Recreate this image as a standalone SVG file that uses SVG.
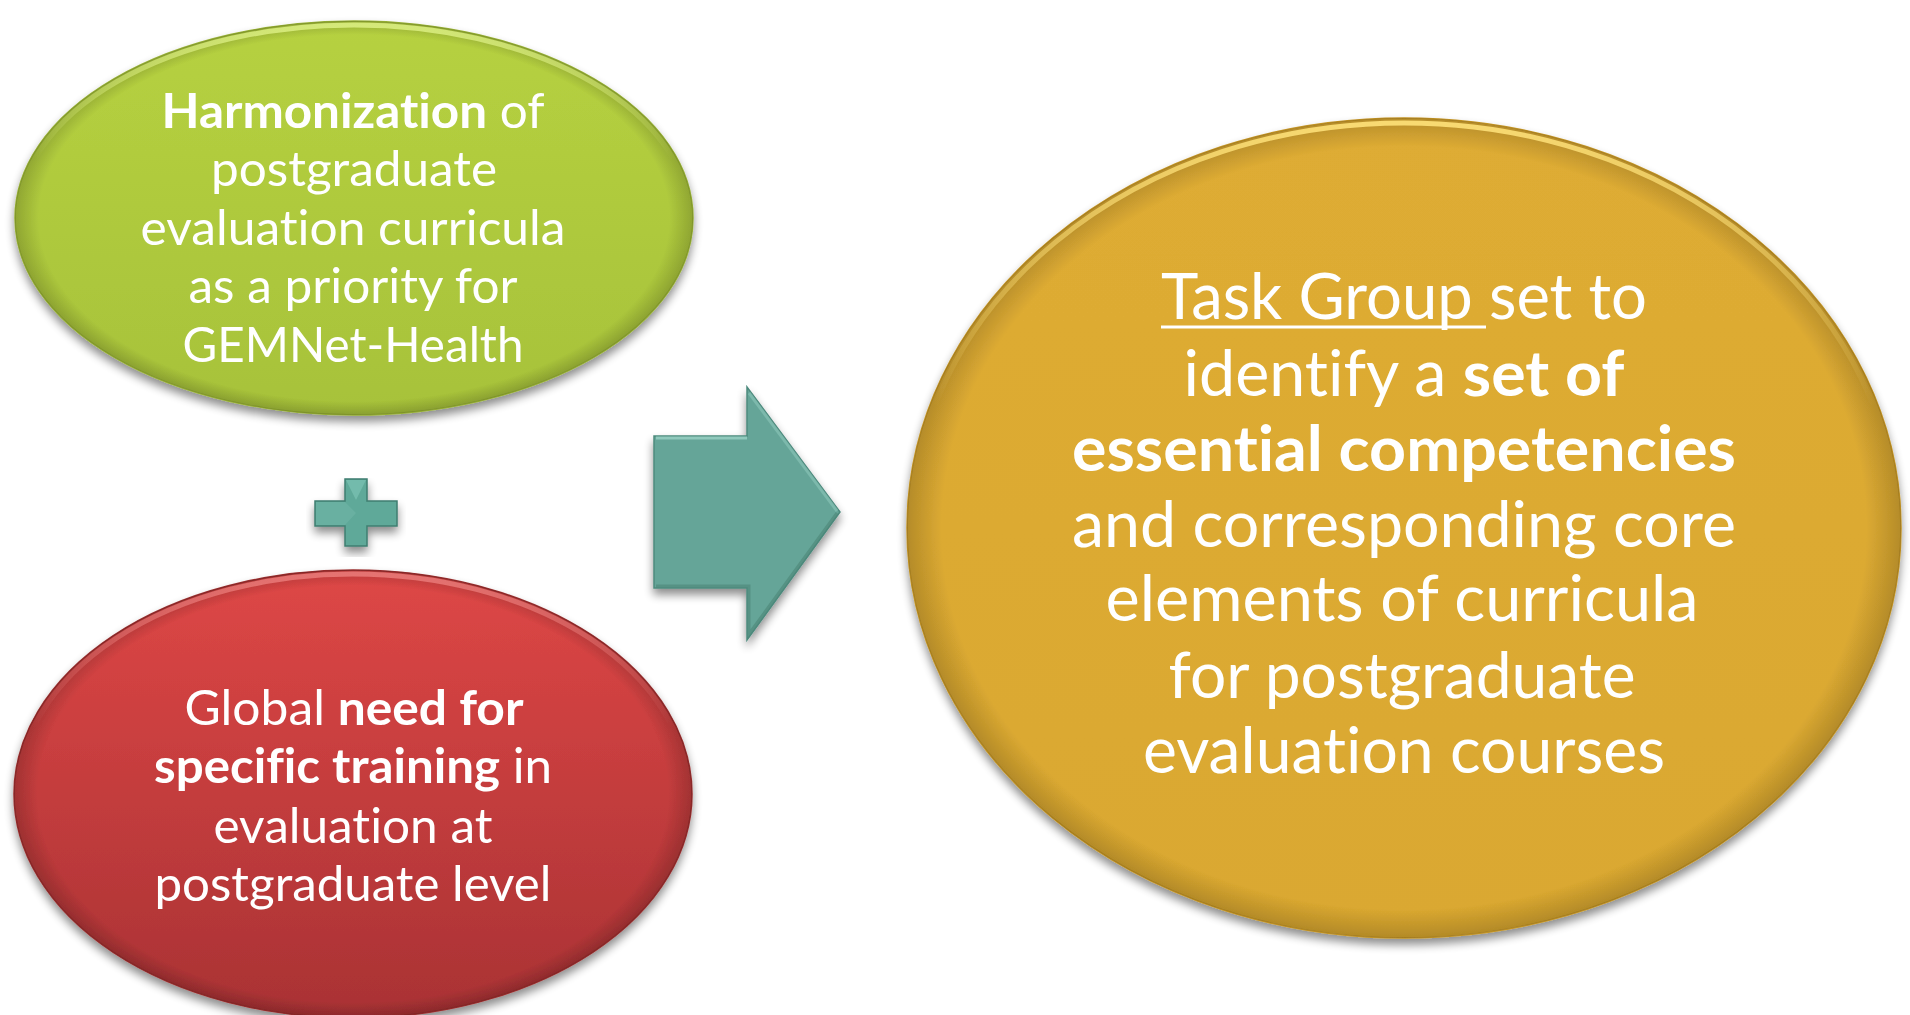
<svg xmlns="http://www.w3.org/2000/svg" width="1910" height="1015" viewBox="0 0 1910 1015">
<style>
  .t { font-family: Lato, "Open Sans", "Liberation Sans", sans-serif; fill: #ffffff; text-anchor: middle; font-variant-ligatures: none; font-feature-settings: "liga" 0, "clig" 0; }
  .s { font-size: 48px; }
  .l { font-size: 63px; }
  .b { font-weight: bold; }
  .hl { fill: none; stroke-width: 5; }
</style>
<defs>
  <filter id="sh" x="-10%" y="-10%" width="120%" height="125%">
    <feGaussianBlur in="SourceAlpha" stdDeviation="5"/>
    <feOffset dx="0" dy="6" result="o"/>
    <feComponentTransfer><feFuncA type="linear" slope="0.45"/></feComponentTransfer>
    <feMerge><feMergeNode/><feMergeNode in="SourceGraphic"/></feMerge>
  </filter>
  <linearGradient id="gG" x1="0" y1="0" x2="0" y2="1">
    <stop offset="0" stop-color="#b6d140"/>
    <stop offset="1" stop-color="#a7c23a"/>
  </linearGradient>
  <linearGradient id="gR" x1="0" y1="0" x2="0" y2="1">
    <stop offset="0" stop-color="#de4746"/>
    <stop offset="1" stop-color="#a93234"/>
  </linearGradient>
  <linearGradient id="gO" x1="0" y1="0" x2="0" y2="1">
    <stop offset="0" stop-color="#deac34"/>
    <stop offset="1" stop-color="#daa830"/>
  </linearGradient>
  <linearGradient id="hlO" x1="0" y1="0" x2="0" y2="1">
    <stop offset="0" stop-color="#ffe27a" stop-opacity="0.9"/>
    <stop offset="0.35" stop-color="#ffe27a" stop-opacity="0"/>
  </linearGradient>
  <linearGradient id="hlG" x1="0" y1="0" x2="0" y2="1">
    <stop offset="0" stop-color="#e2f58a" stop-opacity="0.8"/>
    <stop offset="0.35" stop-color="#e2f58a" stop-opacity="0"/>
  </linearGradient>
  <linearGradient id="hlR" x1="0" y1="0" x2="0" y2="1">
    <stop offset="0" stop-color="#f58a88" stop-opacity="0.7"/>
    <stop offset="0.35" stop-color="#f58a88" stop-opacity="0"/>
  </linearGradient>
  <radialGradient id="rim" cx="0.5" cy="0.5" r="0.5">
    <stop offset="0.93" stop-color="#000" stop-opacity="0"/>
    <stop offset="1" stop-color="#000" stop-opacity="0.18"/>
  </radialGradient>
</defs>

<g id="connectors">
  <g id="arrow" filter="url(#sh)">
    <polygon points="654,436 747,436 747,387 840,512 747,640 747,588 654,588" fill="#65a598" stroke="#4d8a7d" stroke-width="1.5"/>
    <polyline points="656,438 747,438" stroke="#a3d8cc" stroke-width="3" fill="none" opacity="0.7"/>
    <polyline points="749,393 837,511" stroke="#8cc6b9" stroke-width="3" fill="none" opacity="0.6"/>
    <polyline points="837,513 749,634 749,586 656,586" stroke="#47806f" stroke-width="3" fill="none" opacity="0.5"/>
  </g>
  <g id="plus" filter="url(#sh)">
    <path d="M345,479 H367 V501 H397 V526 H367 V546 H345 V526 H315 V501 H345 Z" fill="#5fa999" stroke="#3f7e70" stroke-width="1.5"/>
    <path d="M346,480 H366 L356,500 Z" fill="#7cc3b3" opacity="0.7"/>
    <path d="M316,502 H345 L356,513 L345,525 H316 Z" fill="#6fb6a6" opacity="0.6"/>
  </g>
</g>

<g id="node-harmonization" filter="url(#sh)">
  <ellipse cx="354" cy="218" rx="339" ry="197" fill="url(#gG)" stroke="#97b034" stroke-width="1.5"/>
  <ellipse cx="354" cy="218" rx="339" ry="197" fill="url(#rim)"/>
  <ellipse cx="354" cy="218" rx="335" ry="193" class="hl" stroke="url(#hlG)"/>
  <text class="t s" x="353" y="128" textLength="383" lengthAdjust="spacingAndGlyphs"><tspan class="b">Harmonization</tspan> of</text>
  <text class="t s" x="354" y="186" textLength="286" lengthAdjust="spacingAndGlyphs">postgraduate</text>
  <text class="t s" x="353" y="245" textLength="425" lengthAdjust="spacingAndGlyphs">evaluation curricula</text>
  <text class="t s" x="353" y="303" textLength="329" lengthAdjust="spacingAndGlyphs">as a priority for</text>
  <text class="t s" x="353" y="362" textLength="341" lengthAdjust="spacingAndGlyphs">GEMNet-Health</text>
</g>

<g id="node-need" filter="url(#sh)">
  <ellipse cx="353" cy="794" rx="339" ry="224" fill="url(#gR)" stroke="#9a2e2e" stroke-width="1.5"/>
  <ellipse cx="353" cy="794" rx="339" ry="224" fill="url(#rim)"/>
  <ellipse cx="353" cy="794" rx="335" ry="220" class="hl" stroke="url(#hlR)"/>
  <text class="t s" x="354" y="725" textLength="339" lengthAdjust="spacingAndGlyphs">Global <tspan class="b">need for</tspan></text>
  <text class="t s" x="353" y="783" textLength="398" lengthAdjust="spacingAndGlyphs"><tspan class="b">specific training</tspan> in</text>
  <text class="t s" x="353" y="843" textLength="279" lengthAdjust="spacingAndGlyphs">evaluation at</text>
  <text class="t s" x="353" y="901" textLength="397" lengthAdjust="spacingAndGlyphs">postgraduate level</text>
</g>

<g id="node-taskgroup" filter="url(#sh)">
  <ellipse cx="1404" cy="528" rx="497" ry="410" fill="url(#gO)" stroke="#c29324" stroke-width="1.5"/>
  <ellipse cx="1404" cy="528" rx="497" ry="410" fill="url(#rim)"/>
  <ellipse cx="1404" cy="528" rx="492" ry="405" class="hl" stroke="url(#hlO)"/>
  <text class="t l" x="1404" y="319" textLength="486" lengthAdjust="spacingAndGlyphs">Task Group set to</text>
  <line x1="1161" y1="327" x2="1486" y2="327" stroke="#ffffff" stroke-width="3"/>
  <text class="t l" x="1404" y="396" textLength="441" lengthAdjust="spacingAndGlyphs">identify a <tspan class="b">set of</tspan></text>
  <text class="t l b" x="1404" y="471" textLength="664" lengthAdjust="spacingAndGlyphs">essential competencies</text>
  <text class="t l" x="1404" y="547" textLength="664" lengthAdjust="spacingAndGlyphs">and corresponding core</text>
  <text class="t l" x="1402" y="621" textLength="593" lengthAdjust="spacingAndGlyphs">elements of curricula</text>
  <text class="t l" x="1402" y="698" textLength="467" lengthAdjust="spacingAndGlyphs">for postgraduate</text>
  <text class="t l" x="1404" y="773" textLength="522" lengthAdjust="spacingAndGlyphs">evaluation courses</text>
</g>
</svg>
